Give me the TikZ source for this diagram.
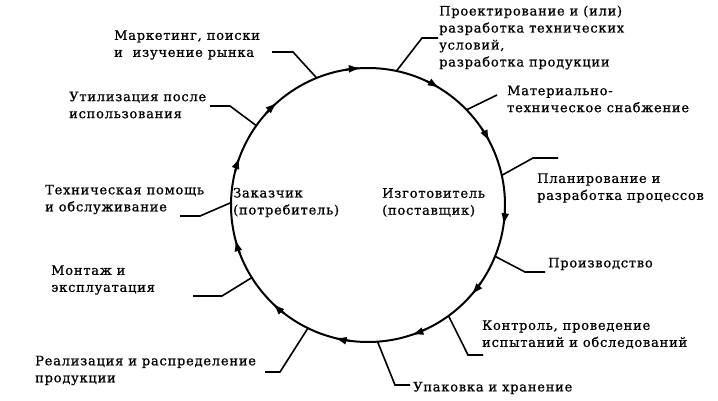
\documentclass[tikz,border=0pt]{standalone}
\usepackage{fontspec}
\setmainfont{DejaVu Serif}[LetterSpace=6, FakeBold=0.8]
\usetikzlibrary{calc,arrows.meta}

\begin{document}
\begin{tikzpicture}[x=1pt, y=1pt,
    every node/.style={font=\fontsize{13}{17}\selectfont, inner sep=0, align=left},
    lbl/.style={anchor=west},
    tick/.style={line width=1.6pt},
    flow/.style={line width=2pt, -{Latex[length=12pt,width=8pt]}}]
    \useasboundingbox (0,0) rectangle (718,400);
    \coordinate (c) at (368,195);
    \draw [line width=2pt] (c) circle (137pt);
    % stages of the loop
    \node [lbl] (market) at (114,355) {Маркетинг, поиски\\и\ \ изучение рынка};
    \node [lbl] (design) at (439,362.5) {Проектирование и (или)\\разработка технических\\условий,\\разработка продукции};
    \node [lbl] (supply) at (507,301) {Материально-\\техническое снабжение};
    \node [lbl] (plan) at (537,212) {Планирование и\\разработка процессов};
    \node [lbl] (prod) at (548,136) {Производство};
    \node [lbl] (control) at (482,65.5) {Контроль, проведение\\испытаний и обследований};
    \node [lbl] (pack) at (413,12) {Упаковка и хранение};
    \node [lbl] (sales) at (35,29.5) {Реализация и распределение\\продукции};
    \node [lbl] (mount) at (51,120) {Монтаж и\\эксплуатация};
    \node [lbl] (help) at (45,200.5) {Техническая помощь\\и обслуживание};
    \node [lbl] (util) at (69,295) {Утилизация после\\использования};
    \node [lbl] (customer) at (233,197.5) {Заказчик\\(потребитель)};
    \node [lbl] (maker) at (382,197.5) {Изготовитель\\(поставщик)};
    % leaders from the circle to the stages
    \foreach \n/\a/\bx/\by/\ex in {1/112/293/348/272, 2/78/422/362/438, 3/44/497/305/497,
        4/12.5/533/242/558, 5/-22/525/128/545, 6/-54/468/45/483, 7/-86/395/15/410,
        8/-116/280/28/265, 9/-148/222/104/193, 10/179/200/184/180, 11/144.6/230/294/210} {
      \coordinate (m\n) at ($(c)+(\a:137pt)$);
      \coordinate (b\n) at (\bx,\by);
      \coordinate (e\n) at (\ex,\by);
      \draw [tick] (m\n) -- (b\n) -- (e\n);
    }
    % arrows along the loop
    \foreach \a in {162,134,95.5,61,30,-6,-38.5,-69,-101.6,-131.5,-163}
      \draw [flow] ($(c)+(\a+4:137pt)$) arc (\a+4:\a-2.5:137pt);
\end{tikzpicture}
\end{document}
